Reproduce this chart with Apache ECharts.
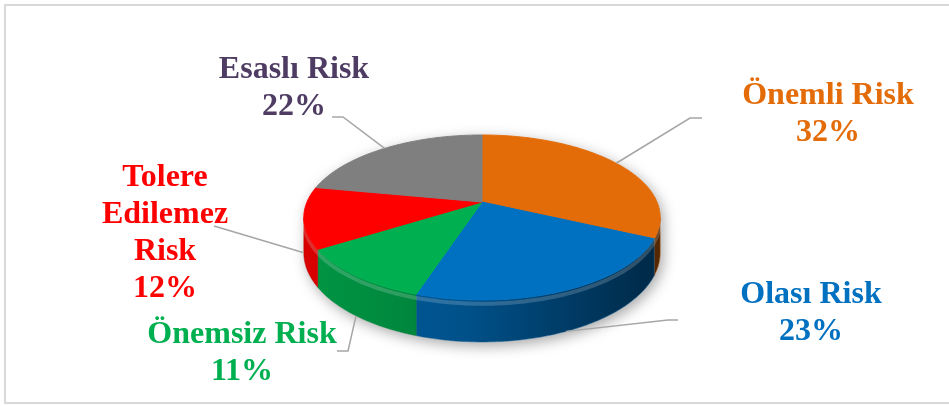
<!DOCTYPE html>
<html><head><meta charset="utf-8">
<script src="https://cdn.jsdelivr.net/npm/echarts@6/dist/echarts.min.js"></script>
<style>html,body{margin:0;padding:0;background:#fff}#c{width:949px;height:406px}</style>
</head><body><div id="c"></div>
<script>
// ---- data ----
const categories = ['Önemli Risk', 'Olası Risk', 'Önemsiz Risk', 'Tolere Edilemez Risk', 'Esaslı Risk'];
const values = [32, 23, 11, 12, 22];
const labelNames = ['Önemli Risk', 'Olası Risk', 'Önemsiz Risk', 'Tolere\nEdilemez\nRisk', 'Esaslı Risk'];

// ---- styles / layout ----
const colors = ['#e36c09', '#0070c0', '#00b050', '#ff0000', '#7f7f7f'];
const labelColors = ['#e36c09', '#0070c0', '#00b050', '#ff0000', '#4f3c63'];
// perspective-tilted pie: R horizontal radius, H vertical radius, K perspective, D depth
const PIE = { cx: 482, cy: 202, R: 175, H: 79.6, K: 0.188, D: 34 };
const LABELS = [
  { x: 828, y: 114, depth: 0, line: [[702, 118], [690, 118]] },
  { x: 811, y: 313, depth: 1, line: [[678, 320], [668, 320]] },
  { x: 242, y: 353, depth: 1, line: [[337, 351], [348, 351]] },
  { x: 165, y: 233, depth: 1, line: [[214, 226]] },
  { x: 294, y: 88, depth: 0, line: [[332, 117], [343, 117]] }
];
const FONT = 'bold 32px "Liberation Serif", "Times New Roman", serif';

function shade(hex, f) {
  const n = parseInt(hex.slice(1), 16);
  const r = Math.round(((n >> 16) & 255) * f), g = Math.round(((n >> 8) & 255) * f), b = Math.round((n & 255) * f);
  return 'rgb(' + r + ',' + g + ',' + b + ')';
}
function pt(deg, df) {
  const t = deg * Math.PI / 180;
  const u = Math.sin(t), v = Math.cos(t);
  const s = 1 / (1 + PIE.K * v);
  return [PIE.cx + PIE.R * u * s, PIE.cy - PIE.H * v * s + (df || 0) * PIE.D * s];
}
function arc(a, b, df) {
  const out = [];
  const step = a < b ? 1 : -1;
  const n = Math.ceil(Math.abs(b - a));
  for (let k = 0; k <= n; k++) {
    const d = k === n ? b : a + step * k;
    out.push(pt(d, df));
  }
  return out;
}

const total = values.reduce((s, v) => s + v, 0);
const SIDE_R = Math.acos(-PIE.K) * 180 / Math.PI;  // right silhouette angle
const SIDE_L = 360 - SIDE_R;                       // left silhouette angle

function renderItem(params, api) {
  const i = params.dataIndex;
  let cum = 0;
  for (let k = 0; k < i; k++) cum += values[k];
  const v = api.value(0);
  const a0 = cum / total * 360, a1 = (cum + v) / total * 360;
  const children = [];
  const c = colors[i];

  if (i === 0) {
    const sil = arc(SIDE_L - 360, SIDE_R, 0).concat(arc(SIDE_R, SIDE_L, 1));
    children.push({
      type: 'polygon', shape: { points: sil },
      style: { fill: '#ffffff', shadowBlur: 14, shadowColor: 'rgba(0,0,0,0.35)', shadowOffsetX: 3, shadowOffsetY: 4 },
      z2: 0
    });
  }

  // side
  const s = Math.max(a0, SIDE_R), e = Math.min(a1, SIDE_L);
  if (e > s) {
    const pts = arc(s, e, 0).concat(arc(e, s, 1));
    children.push({
      type: 'polygon', shape: { points: pts },
      style: {
        fill: new echarts.graphic.LinearGradient(PIE.cx - PIE.R * 1.02, 0, PIE.cx + PIE.R * 1.02, 0, [
          { offset: 0, color: shade(c, 0.85) },
          { offset: 0.45, color: shade(c, 0.72) },
          { offset: 1, color: shade(c, 0.36) }
        ], true),
        stroke: shade(c, 0.7), lineWidth: 0.5
      },
      z2: 1
    });
    children.push({
      type: 'polyline', shape: { points: arc(s, e, 0.09) },
      style: { stroke: 'rgba(255,255,255,0.18)', lineWidth: 4, fill: null },
      z2: 2
    });
  }

  // top face
  const top = [[PIE.cx, PIE.cy]].concat(arc(a0, a1, 0));
  children.push({
    type: 'polygon', shape: { points: top },
    style: { fill: c, stroke: c, lineWidth: 1 },
    z2: 3
  });

  // leader line (anchored at slice mid-angle)
  const L = LABELS[i];
  const am = (a0 + a1) / 2;
  const anchorPt = pt(am, L.depth);
  children.push({
    type: 'polyline', shape: { points: L.line.concat([anchorPt]) },
    style: { stroke: '#a6a6a6', lineWidth: 1.5, fill: null },
    z2: 4
  });

  // label
  children.push({
    type: 'text', x: L.x, y: L.y,
    style: {
      text: labelNames[i] + '\n' + Math.round(v / total * 100) + '%',
      font: FONT, fill: labelColors[i],
      align: 'center', verticalAlign: 'middle', lineHeight: 37
    },
    z2: 5
  });

  return { type: 'group', children: children };
}

const chart = echarts.init(document.getElementById('c'), null, { renderer: 'canvas' });
chart.setOption({
  backgroundColor: '#ffffff',
  animation: false,
  graphic: [{
    type: 'rect', shape: { x: 5, y: 5, width: 980, height: 398 },
    style: { fill: null, stroke: '#d9d9d9', lineWidth: 2 }, silent: true, z: -10
  }],
  series: [{
    type: 'custom',
    coordinateSystem: 'none',
    renderItem: renderItem,
    data: values.map((v, i) => ({ name: categories[i], value: [v] }))
  }]
});
</script>
</body></html>
